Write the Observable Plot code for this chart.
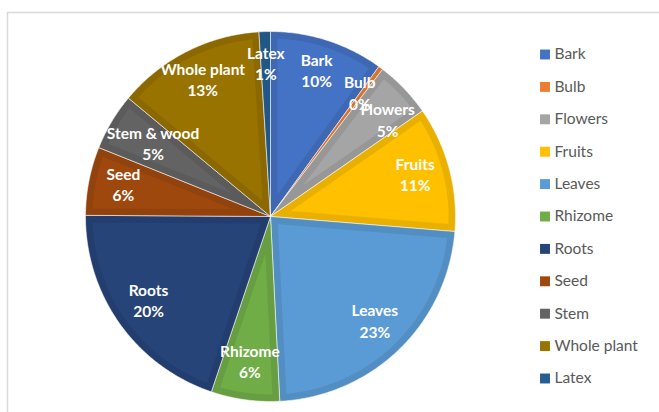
<!DOCTYPE html>
<html><head><meta charset="utf-8">
<script src="https://cdn.jsdelivr.net/npm/d3@7"></script>
<script src="https://cdn.jsdelivr.net/npm/@observablehq/plot@0.6"></script>
<style>body{margin:0;background:#fff;} #chart svg{display:block;}</style>
</head><body><div id="chart"></div>
<script>
const categories = ["Bark","Bulb","Flowers","Fruits","Leaves","Rhizome","Roots","Seed","Stem","Whole plant","Latex"];
const sliceLabels = ["Bark","Bulb","Flowers","Fruits","Leaves","Rhizome","Roots","Seed","Stem & wood","Whole plant","Latex"];
const values = [10,0.4,5,11,23,6,20,6,5,13,1];
const colors = ["#4472C4","#ED7D31","#A5A5A5","#FFC000","#5B9BD5","#70AD47","#264478","#9E480E","#636363","#997300","#255E91"];

const W = 659, H = 412, cx = 270, cy = 216, R = 185, bevel = 7, labelR = 0.81;
const labelFont = 15.5, lineH = 1.38;
const total = d3.sum(values);
const arcs = d3.pie().sort(null).value(d => d)(values);

const marks = [];
// border
marks.push(Plot.ruleY([12], {x1: 7, x2: W, stroke: "#d9d9d9", strokeWidth: 1.5}));
marks.push(Plot.ruleX([7], {y1: 12, y2: H, stroke: "#d9d9d9", strokeWidth: 1.5}));

const pt = (r, a) => ({x: cx + r * Math.sin(a), y: cy - r * Math.cos(a)});
arcs.forEach((p, i) => {
  const a0 = p.startAngle, a1 = p.endAngle;
  const n = Math.max(2, Math.ceil((a1 - a0) / 0.01));
  const outer = [{x: cx, y: cy}];
  for (let k = 0; k <= n; k++) outer.push(pt(R, a0 + (a1 - a0) * k / n));
  outer.push({x: cx, y: cy});
  const base = d3.color(colors[i]).darker(0.25).formatHex();
  marks.push(Plot.line(outer, {x: "x", y: "y", fill: base, stroke: "#ffffff", strokeWidth: 0.7, strokeOpacity: 0.8}));
  const half = (a1 - a0) / 2, ri = R - bevel;
  const da = Math.asin(bevel / ri);
  const apex = bevel / Math.sin(half);
  if (half > da && apex < ri - 12) {
    const mid = (a0 + a1) / 2, b0 = a0 + da, b1 = a1 - da;
    const inner = [pt(apex, mid)];
    for (let k = 0; k <= n; k++) inner.push(pt(ri, b0 + (b1 - b0) * k / n));
    inner.push(pt(apex, mid));
    marks.push(Plot.line(inner, {x: "x", y: "y", fill: colors[i], stroke: "none"}));
  }
});

// data labels (best fit: pull inward until each line sits inside the pie; nudge along the arc away from the previous label)
const ctx = document.createElement("canvas").getContext("2d");
ctx.font = `bold ${labelFont}px Lato`;
const lh = labelFont * lineH;
const labels = [];
arcs.forEach((p, i) => {
  let m = (p.startAngle + p.endAngle) / 2;
  const pct = Math.round(values[i] / total * 100) + "%";
  const lines = [sliceLabels[i], pct].map(t => ctx.measureText(t).width);
  const w = Math.max(...lines);
  const fits = q => lines.every((lw, j) => {
    const y = q.y - 4 + (j - 0.5) * lh;
    const half = Math.sqrt(Math.max(0, R * R - (y - cy) ** 2));
    return q.x - lw / 2 >= cx - half && q.x + lw / 2 <= cx + half;
  });
  const place = m => {
    let r = R * labelR, q = pt(r, m);
    while (!fits(q) && r > R * 0.5) { r -= 1; q = pt(r, m); }
    return q;
  };
  let q = place(m);
  const prev = labels[labels.length - 1];
  const clash = q => prev &&
    Math.min(q.x + w / 2, prev.x + prev.w / 2) - Math.max(q.x - w / 2, prev.x - prev.w / 2) > 4 &&
    Math.min(q.y + lh * 0.8, prev.y + lh * 0.8) - Math.max(q.y - lh * 0.8, prev.y - lh * 0.8) > 8;
  let steps = 0;
  while (clash(q) && steps < 15) { m += 0.01; q = place(m); steps++; }
  labels.push({x: q.x, y: q.y, w, text: sliceLabels[i] + "\n" + pct});
});
marks.push(Plot.text(labels, {x: "x", y: "y", dy: -4, text: "text", fill: "#ffffff", fontSize: labelFont, fontWeight: "bold", lineHeight: lineH, fontFamily: "Lato"}));

// legend
const legend = categories.map((c, i) => ({c, i, col: colors[i]}));
marks.push(Plot.dot(legend, {x: () => 544.5, y: d => 54 + d.i * 32.4, symbol: "square", r: 5.6, fill: d => d.col, stroke: "none"}));
marks.push(Plot.text(legend, {x: () => 554, y: d => 54 + d.i * 32.4, text: "c", textAnchor: "start", fill: "#595959", fontSize: 15.5, fontFamily: "Lato"}));

const chart = Plot.plot({
  width: W, height: H, margin: 0,
  x: {domain: [0, W], range: [0, W], axis: null},
  y: {domain: [0, H], range: [0, H], axis: null},
  color: {type: "identity"},
  style: {background: "#ffffff", fontFamily: "Lato"},
  marks
});
document.getElementById("chart").appendChild(chart);
</script>
</body></html>
